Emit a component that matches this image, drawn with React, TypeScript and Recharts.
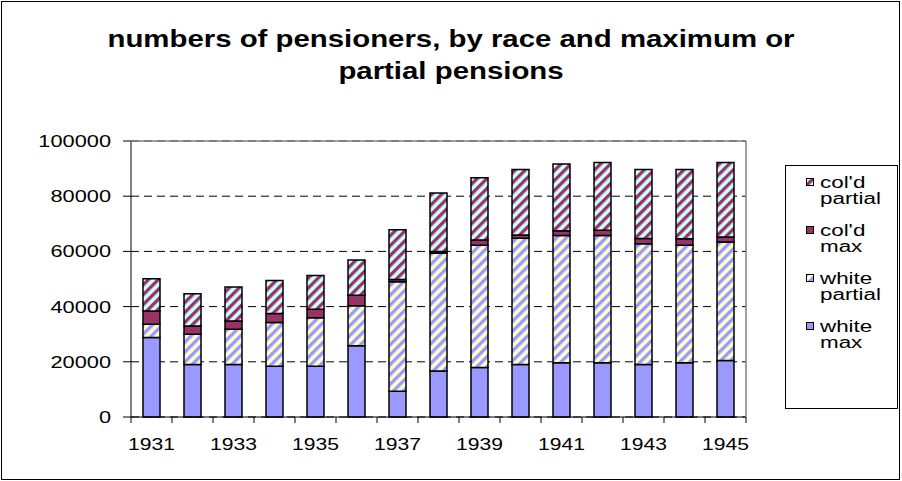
import React from 'react';
import { BarChart, Bar, XAxis, YAxis, CartesianGrid, Legend } from 'recharts';

const years = ['1931', '1932', '1933', '1934', '1935', '1936', '1937', '1938', '1939', '1940', '1941', '1942', '1943', '1944', '1945'];
const whiteMax = [28800, 19000, 19000, 18400, 18400, 25800, 9300, 16700, 17900, 19000, 19700, 19700, 19000, 19700, 20500];
const whitePartial = [4800, 11000, 12800, 15800, 17600, 14500, 39700, 42600, 44300, 45800, 46100, 46100, 43800, 42500, 42900];
const coldMax = [4800, 3000, 3000, 3300, 3000, 3800, 800, 700, 1900, 1100, 1700, 1900, 1900, 2400, 1800];
const coldPartial = [11700, 11700, 12300, 12000, 12300, 12800, 18000, 21200, 22600, 23800, 24200, 24500, 25000, 25100, 27000];
const yTicks = [0, 20000, 40000, 60000, 80000, 100000];
const labeledYears = ['1931', '1933', '1935', '1937', '1939', '1941', '1943', '1945'];
const titleLines = ['numbers of pensioners, by race and maximum or', 'partial pensions'];

const series = [
  { key: 'whiteMax', name: 'white max', fill: '#9999ff' },
  { key: 'whitePartial', name: 'white partial', fill: 'url(#wpPat)' },
  { key: 'coldMax', name: "col'd max", fill: '#993366' },
  { key: 'coldPartial', name: "col'd partial", fill: 'url(#cpPat)' },
];

const data = years.map((y, i) => ({
  year: y,
  whiteMax: whiteMax[i],
  whitePartial: whitePartial[i],
  coldMax: coldMax[i],
  coldPartial: coldPartial[i],
}));

const W = 902;
const H = 481;
const PLOT_LEFT = 131;
const PLOT_RIGHT = 746;
const PLOT_TOP = 141;
const PLOT_BOTTOM = 417;
const PLOT_W = PLOT_RIGHT - PLOT_LEFT;
const PLOT_H = PLOT_BOTTOM - PLOT_TOP;
const Y_AXIS_W = 60;
const X_AXIS_H = 30;
const Y_TICK_SIZE = 8;
const Y_TICK_MARGIN = 12;
const FRAME = '#808080';
const FONT = 'Liberation Sans, Arial, sans-serif';

const bandW = PLOT_W / years.length;

const XTick = (props: any) => {
  const { x, y, payload, index } = props;
  const left = x - bandW / 2;
  const right = x + bandW / 2;
  const show = labeledYears.includes(payload.value);
  const last = index === years.length - 1;
  return (
    <g>
      <line x1={left} x2={left} y1={y} y2={y + 6} stroke="#000" strokeWidth={1} />
      {last && (
        <g>
          <line x1={right} x2={right} y1={y - PLOT_H} y2={y} stroke={FRAME} strokeWidth={1.5} />
          <line x1={right} x2={right} y1={y} y2={y + 6} stroke="#000" strokeWidth={1} />
        </g>
      )}
      {show && (
        <g transform={`translate(${x},${y + 33}) scale(1.28,1)`}>
          <text x={0} y={0} textAnchor="middle" fontFamily={FONT} fontSize={16.5} fill="#000">
            {payload.value}
          </text>
        </g>
      )}
    </g>
  );
};

const YTick = (props: any) => {
  const { x, y, payload } = props;
  const axisX = x + Y_TICK_SIZE + Y_TICK_MARGIN;
  const isTop = payload.value === yTicks[yTicks.length - 1];
  return (
    <g>
      {isTop && (
        <line x1={axisX} x2={axisX + PLOT_W} y1={y} y2={y} stroke={FRAME} strokeWidth={1.5} />
      )}
      <g transform={`translate(${x},${y + 6}) scale(1.32,1)`}>
        <text x={0} y={0} textAnchor="end" fontFamily={FONT} fontSize={16.5} fill="#000">
          {payload.value}
        </text>
      </g>
    </g>
  );
};

const legendItems = [
  { lines: ["col'd", 'partial'], fill: 'url(#cpPat)' },
  { lines: ["col'd", 'max'], fill: '#993366' },
  { lines: ['white', 'partial'], fill: 'url(#wpPat)' },
  { lines: ['white', 'max'], fill: '#9999ff' },
];

const LegendContent = () => (
  <svg width={113} height={244} style={{ display: 'block' }}>
    <rect x={0.5} y={0.5} width={112} height={243} fill="#fff" stroke="#000" strokeWidth={1} />
    {legendItems.map((it, i) => {
      const top = 13 + i * 48;
      return (
        <g key={i}>
          <rect x={21.5} y={top + 0.5} width={7} height={7} fill={it.fill} stroke="#000" strokeWidth={1} />
          {it.lines.map((ln, j) => (
            <g key={j} transform={`translate(35,${top + 10 + j * 15.5}) scale(1.4,1)`}>
              <text x={0} y={0} fontFamily={FONT} fontSize={16} fill="#000">
                {ln}
              </text>
            </g>
          ))}
        </g>
      );
    })}
  </svg>
);

export default function App() {
  return (
    <div style={{ position: 'absolute', left: 0, top: 0, width: W, height: H, background: '#fff', fontFamily: FONT }}>
      <div style={{ position: 'absolute', left: 1, top: 1, width: 899, height: 479, border: '1px solid #000', boxSizing: 'border-box' }} />
      <svg width={0} height={0} style={{ position: 'absolute' }}>
        <defs>
          <pattern id="wpPat" patternUnits="userSpaceOnUse" width={7} height={7} patternTransform="rotate(45)">
            <rect x={0} y={0} width={7} height={7} fill="#ffffcc" />
            <rect x={0} y={0} width={3.3} height={7} fill="#9999ff" />
          </pattern>
          <pattern id="cpPat" patternUnits="userSpaceOnUse" width={7} height={7} patternTransform="rotate(45)">
            <rect x={0} y={0} width={7} height={7} fill="#ccffff" />
            <rect x={0} y={0} width={3.3} height={7} fill="#993366" />
          </pattern>
        </defs>
      </svg>
      <div style={{ position: 'absolute', left: 0, top: 0 }}>
        <BarChart
          width={W}
          height={H}
          data={data}
          margin={{ top: PLOT_TOP, right: W - PLOT_RIGHT, bottom: H - PLOT_BOTTOM - X_AXIS_H, left: PLOT_LEFT - Y_AXIS_W }}
        >
          <CartesianGrid vertical={false} stroke="#000" strokeDasharray="8 5" />
          <XAxis
            dataKey="year"
            interval={0}
            height={X_AXIS_H}
            tickSize={0}
            tickMargin={0}
            tickLine={false}
            axisLine={{ stroke: '#000', strokeWidth: 1 }}
            tick={<XTick />}
          />
          <YAxis
            type="number"
            domain={[0, 100000]}
            ticks={yTicks}
            interval={0}
            width={Y_AXIS_W}
            tickSize={Y_TICK_SIZE}
            tickMargin={Y_TICK_MARGIN}
            tickLine={{ stroke: '#000' }}
            axisLine={{ stroke: '#000', strokeWidth: 1 }}
            tick={<YTick />}
          />
          {series.map((s) => (
            <Bar
              key={s.key}
              dataKey={s.key}
              name={s.name}
              stackId="a"
              fill={s.fill}
              stroke="#000"
              strokeWidth={1.5}
              barSize={17}
              isAnimationActive={false}
            />
          ))}
          <Legend
            layout="vertical"
            align="center"
            verticalAlign="middle"
            wrapperStyle={{ position: 'absolute', left: 785, top: 165, width: 113, height: 244 }}
            content={<LegendContent />}
          />
        </BarChart>
      </div>
      <svg width={W} height={100} style={{ position: 'absolute', left: 0, top: 0, pointerEvents: 'none' }}>
        {titleLines.map((t, i) => (
          <g key={i} transform={`translate(451,${47 + i * 32}) scale(1.25,1)`}>
            <text x={0} y={0} textAnchor="middle" fontFamily={FONT} fontWeight="bold" fontSize={23.5} fill="#000">
              {t}
            </text>
          </g>
        ))}
      </svg>
    </div>
  );
}
